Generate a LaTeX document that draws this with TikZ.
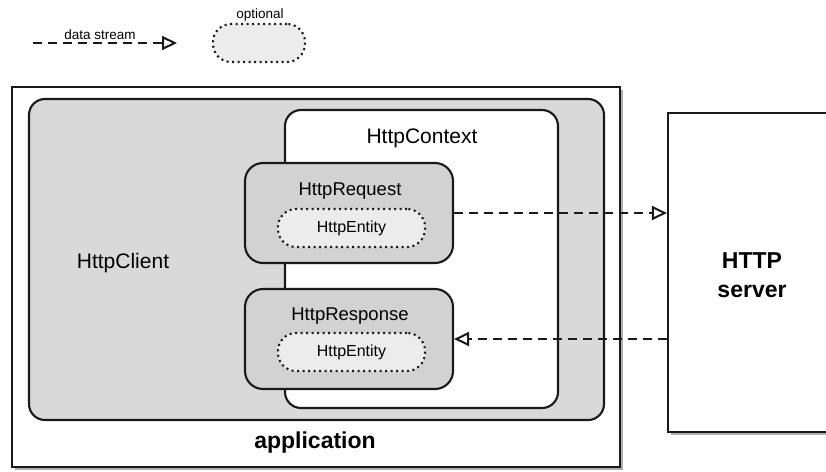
\documentclass[tikz,border=0pt]{standalone}
\usepackage{fontspec}
\setmainfont{Liberation Sans}
\usetikzlibrary{arrows.meta,shadows}
\definecolor{clientgray}{HTML}{D9D9D9}
\definecolor{reqgray}{HTML}{D2D2D2}
\definecolor{entgray}{HTML}{ECECEC}
\tikzset{
  frame/.style={draw=black!90, line width=2.1pt, inner sep=0pt},
  appbox/.style={frame, fill=white, drop shadow={shadow xshift=3pt, shadow yshift=-3pt, opacity=0.45, fill=black!70}},
  clientbox/.style={frame, fill=clientgray, rounded corners=16pt},
  ctxbox/.style={frame, fill=white, rounded corners=16pt},
  msgbox/.style={frame, fill=reqgray, rounded corners=18pt, minimum width=208pt, minimum height=100pt},
  pill/.style={draw=black!90, line width=2.1pt, dash pattern=on 2pt off 3.5pt, fill=entgray, rounded corners=18pt, inner sep=0pt, font=\fontsize{16}{18}\selectfont},
  flow/.style={draw=black!90, line width=2pt, dash pattern=on 9pt off 6pt, -{Triangle[open, length=15pt, width=14pt, line width=2pt]}},
  lbl/.style={inner sep=0pt, anchor=base, font=\fontsize{18.5}{20}\selectfont},
  biglbl/.style={inner sep=0pt, anchor=base, font=\fontsize{21}{24}\selectfont},
  bold/.style={inner sep=0pt, anchor=base, font=\fontsize{23}{29}\selectfont\bfseries, align=center},
  small/.style={inner sep=0pt, anchor=base, font=\fontsize{13.5}{15}\selectfont},
}
\begin{document}
\begin{tikzpicture}[x=1pt, y=-1pt]
\useasboundingbox (0,0) rectangle (826,471);
% legend
\coordinate (ls) at (33,43);
\coordinate (le) at (177,43);
\draw[flow] (ls) -- (le);
\node[small] (lds) at (100,39) {data stream};
\node[pill, minimum width=92pt, minimum height=38pt] (lopt) at (259,43) {};
\node[small] (lopl) at (260,18) {optional};
% application
\node[appbox, minimum width=608pt, minimum height=380pt] (app) at (316,277) {};
\node[bold] (appl) at (315,448) {application};
% HttpClient
\node[clientbox, minimum width=575pt, minimum height=321pt] (client) at (316.5,259.5) {};
\node[biglbl] (clientl) at (123,268) {HttpClient};
% HttpContext
\node[ctxbox, minimum width=273pt, minimum height=298pt] (ctx) at (421.5,259) {};
\node[biglbl] (ctxl) at (422,143) {HttpContext};
% request / response
\node[msgbox] (req) at (349,213) {};
\node[lbl] (reql) at (350,195.5) {HttpRequest};
\node[pill, minimum width=147pt, minimum height=38pt] (ent1) at (351.5,228) {HttpEntity};
\node[msgbox] (resp) at (349,339) {};
\node[lbl] (respl) at (350,320) {HttpResponse};
\node[pill, minimum width=147pt, minimum height=38pt] (ent2) at (351.5,352) {HttpEntity};
% server
\node[appbox, minimum width=182pt, minimum height=319pt] (server) at (759,272.5) {};
\node[bold, anchor=center] (serverl) at (752,275) {HTTP\\server};
% flows
\draw[flow] (req.east) -- (server.west |- req.east);
\draw[flow] (server.west |- resp.east) -- (resp.east);
\end{tikzpicture}
\end{document}
